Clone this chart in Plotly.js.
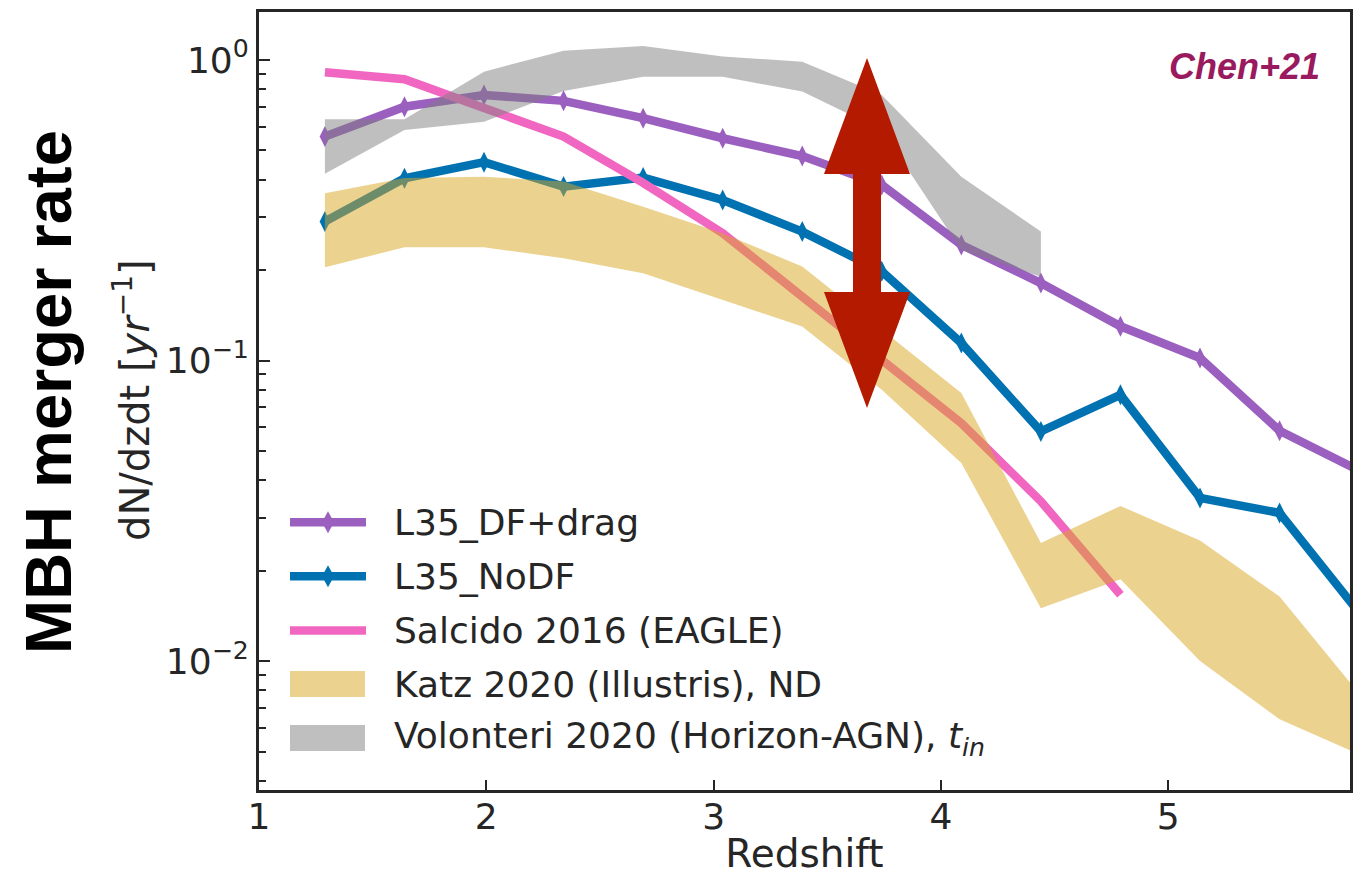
<!DOCTYPE html>
<html>
<head>
<meta charset="utf-8">
<script src="https://cdn.plot.ly/plotly-3.0.1.min.js"></script>
<style>html,body{margin:0;padding:0;background:#fff;}#chart{width:1367px;height:876px;}</style>
</head>
<body>
<div id="chart"></div>
<script>
// ---------------- data ----------------
const redshift = [1.29, 1.64, 1.99, 2.34, 2.69, 3.04, 3.39, 3.74, 4.09, 4.44, 4.79, 5.14, 5.49, 5.84];

const dfDragRate = [0.556, 0.699, 0.765, 0.731, 0.640, 0.549, 0.479, 0.384, 0.2425, 0.181, 0.130, 0.102, 0.0584, 0.043];
const noDFRate   = [0.290, 0.404, 0.457, 0.379, 0.406, 0.342, 0.2685, 0.198, 0.1143, 0.0581, 0.0769, 0.0349, 0.0311, 0.0145];

const salcidoZ    = [1.29, 1.64, 1.99, 2.34, 2.69, 3.04, 3.39, 3.74, 4.09, 4.44, 4.79];
const salcidoRate = [0.910, 0.863, 0.692, 0.556, 0.390, 0.2652, 0.1632, 0.1005, 0.0619, 0.0340, 0.01663];

const katzUpper = [0.360, 0.405, 0.409, 0.394, 0.325, 0.265, 0.2054, 0.1265, 0.0779, 0.0247, 0.0328, 0.0252, 0.0164, 0.0078];
const katzLower = [0.2045, 0.238, 0.238, 0.219, 0.1953, 0.159, 0.1297, 0.0799, 0.0456, 0.0150, 0.0187, 0.0100, 0.0064, 0.0049];

const volZ     = [1.29, 1.64, 1.99, 2.34, 2.69, 3.04, 3.39, 3.74, 4.09, 4.44];
const volUpper = [0.635, 0.635, 0.914, 1.074, 1.113, 1.026, 0.987, 0.765, 0.409, 0.2685];
const volLower = [0.418, 0.585, 0.623, 0.789, 0.880, 0.880, 0.785, 0.585, 0.233, 0.190];

const seriesNames = ["L35_DF+drag", "L35_NoDF", "Salcido 2016 (EAGLE)", "Katz 2020 (Illustris), ND",
                     "Volonteri 2020 (Horizon-AGN), <i>t</i><sub><i>in</i></sub>"];

const xTickVals = [1, 2, 3, 4, 5];
const xTickText = ["1", "2", "3", "4", "5"];
const yTickVals = [1, 0.1, 0.01];
const yTickText = ["10<sup>0</sup>", "10<sup>\u22121</sup>", "10<sup>\u22122</sup>"];

// ---------------- styles ----------------
const C_PURPLE = "#9a5fbf";
const C_BLUE   = "#0072b2";
const C_PINK   = "#f066c0";
const C_KATZ   = "rgba(218,165,32,0.5)";
const C_VOL    = "rgba(128,128,128,0.5)";
const C_TEXT   = "#262626";
const LW = 8.5;

// minor log ticks (2..9 per decade)
const yMinor = [];
[0.001, 0.01, 0.1].forEach(d => { for (let k = 2; k <= 9; k++) yMinor.push(+(k * d).toPrecision(3)); });

function band(xs, up, lo) {
  return { x: xs.concat(xs.slice().reverse()), y: up.concat(lo.slice().reverse()) };
}
const katzPoly = band(redshift, katzUpper, katzLower);
const volPoly  = band(volZ, volUpper, volLower);

const traces = [
  { x: redshift, y: dfDragRate, name: seriesNames[0], type: "scatter", mode: "lines+markers",
    line: { color: C_PURPLE, width: LW }, marker: { symbol: "diamond-tall", size: 15, color: C_PURPLE },
    showlegend: false },
  { x: redshift, y: noDFRate, name: seriesNames[1], type: "scatter", mode: "lines+markers",
    line: { color: C_BLUE, width: LW }, marker: { symbol: "diamond-tall", size: 15, color: C_BLUE },
    showlegend: false },
  { x: salcidoZ, y: salcidoRate, name: seriesNames[2], type: "scatter", mode: "lines",
    line: { color: C_PINK, width: LW }, showlegend: false },
  { x: katzPoly.x, y: katzPoly.y, name: seriesNames[3], type: "scatter", mode: "lines",
    fill: "toself", fillcolor: C_KATZ, line: { width: 0, color: "rgba(0,0,0,0)" }, showlegend: false, hoveron: "fills" },
  { x: volPoly.x, y: volPoly.y, name: seriesNames[4], type: "scatter", mode: "lines",
    fill: "toself", fillcolor: C_VOL, line: { width: 0, color: "rgba(0,0,0,0)" }, showlegend: false, hoveron: "fills" }
];

// ---------------- layout helpers (pixel -> paper) ----------------
const M = { l: 259, r: 17, t: 12, b: 86 };
const PW = 1367 - M.l - M.r, PH = 876 - M.t - M.b;
const px = p => (p - M.l) / PW;
const py = p => (876 - M.b - p) / PH;

const shapes = [];
const annotations = [];

// red double arrow
const ax = 867;
const arrowPts = [[ax, 58], [910, 174], [881, 174], [881, 292], [910, 292], [ax, 408],
                  [824, 292], [853, 292], [853, 174], [824, 174]];
shapes.push({
  type: "path", xref: "paper", yref: "paper", layer: "above",
  path: "M" + arrowPts.map(p => px(p[0]).toFixed(5) + "," + py(p[1]).toFixed(5)).join(" L") + " Z",
  fillcolor: "#b41a00", line: { width: 0 }
});

// custom legend
const rowY = [522.3, 576.3, 630.5, 684, 738];
const legColors = [C_PURPLE, C_BLUE, C_PINK, C_KATZ, C_VOL];
rowY.forEach((yy, i) => {
  if (i < 3) {
    shapes.push({ type: "line", xref: "paper", yref: "paper", x0: px(290), x1: px(366), y0: py(yy), y1: py(yy),
                  line: { color: legColors[i], width: LW } });
    if (i < 2) {
      const cx = 328, h = 11, w = 6;
      shapes.push({ type: "path", xref: "paper", yref: "paper",
        path: `M${px(cx)},${py(yy - h)} L${px(cx + w)},${py(yy)} L${px(cx)},${py(yy + h)} L${px(cx - w)},${py(yy)} Z`,
        fillcolor: legColors[i], line: { width: 0 } });
    }
  } else {
    shapes.push({ type: "rect", xref: "paper", yref: "paper", x0: px(290), x1: px(365), y0: py(yy - 13), y1: py(yy + 13),
                  fillcolor: legColors[i], line: { width: 0 } });
  }
  annotations.push({ xref: "paper", yref: "paper", x: px(392), y: py(yy), xanchor: "left", yanchor: "middle",
    text: seriesNames[i], showarrow: false, font: { family: "DejaVu Sans", size: 36, color: C_TEXT } });
});

// Chen+21 label
annotations.push({ xref: "paper", yref: "paper", x: px(1244), y: py(66), xanchor: "center", yanchor: "middle",
  text: "<b><i>Chen+21</i></b>", showarrow: false,
  font: { family: "Liberation Sans, Arial, sans-serif", size: 36, color: "#991a5e" } });

// big left label
annotations.push({ xref: "paper", yref: "paper", x: px(48), y: py(392), xanchor: "center", yanchor: "middle",
  text: "<b>MBH merger rate</b>", textangle: -90, showarrow: false,
  font: { family: "Liberation Sans, Arial, sans-serif", size: 65, color: "#000000" } });

// y axis title
annotations.push({ xref: "paper", yref: "paper", x: px(132), y: py(400), xanchor: "center", yanchor: "middle",
  text: "dN/dzdt [<i>yr</i><sup>\u22121</sup>]", textangle: -90, showarrow: false,
  font: { family: "DejaVu Sans", size: 40, color: C_TEXT } });

const layout = {
  width: 1367, height: 876,
  margin: M,
  paper_bgcolor: "#ffffff", plot_bgcolor: "#ffffff",
  showlegend: false,
  font: { family: "DejaVu Sans", color: C_TEXT },
  xaxis: {
    range: [1, 5.8], tickmode: "array", tickvals: xTickVals, ticktext: xTickText,
    ticks: "inside", ticklen: 10, tickwidth: 2, tickcolor: C_TEXT, ticklabelstandoff: -7,
    showline: true, linewidth: 3, linecolor: C_TEXT, mirror: true,
    showgrid: false, zeroline: false,
    tickfont: { family: "DejaVu Sans", size: 36, color: C_TEXT },
    title: { text: "Redshift", font: { family: "DejaVu Sans", size: 39, color: C_TEXT }, standoff: 22 },
    automargin: false
  },
  yaxis: {
    type: "log", range: [-2.429, 0.1596], tickmode: "array", tickvals: yTickVals, ticktext: yTickText,
    ticks: "inside", ticklen: 11, tickwidth: 2, tickcolor: C_TEXT,
    minor: { tickmode: "array", tickvals: yMinor, ticks: "inside", ticklen: 7, tickwidth: 2, tickcolor: C_TEXT, showgrid: false },
    showline: true, linewidth: 3, linecolor: C_TEXT, mirror: true,
    showgrid: false, zeroline: false,
    tickfont: { family: "DejaVu Sans", size: 36, color: C_TEXT },
    automargin: false
  },
  shapes: shapes,
  annotations: annotations
};

Plotly.newPlot("chart", traces, layout, { displayModeBar: false, staticPlot: true });
</script>
</body>
</html>
